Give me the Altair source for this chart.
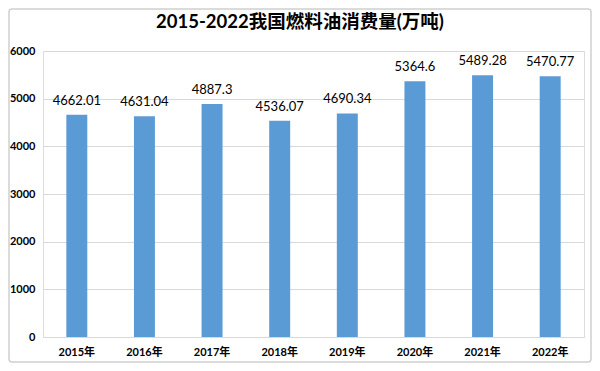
import altair as alt
import pandas as pd

years = ["2015年", "2016年", "2017年", "2018年", "2019年", "2020年", "2021年", "2022年"]
values = [4662.01, 4631.04, 4887.3, 4536.07, 4690.34, 5364.6, 5489.28, 5470.77]
labels = ["4662.01", "4631.04", "4887.3", "4536.07", "4690.34", "5364.6", "5489.28", "5470.77"]
title_text = "2015-2022我国燃料油消费量(万吨)"

df = pd.DataFrame({"year": years, "value": values, "label": labels})

FONT = "Lato, Noto Sans CJK SC, sans-serif"
W, H = 541, 286
PL, PT, PR, PB = 35, 43, 8, 26

x = alt.X("year:N", sort=years, title=None,
          scale=alt.Scale(paddingInner=0.69, paddingOuter=0.345),
          axis=alt.Axis(labelAngle=0, labelFont=FONT, labelFontSize=11, labelFontWeight="bold",
                        labelColor="#000000", ticks=False, domainColor="#d9d9d9", labelPadding=9))
y = alt.Y("value:Q", title=None,
          scale=alt.Scale(domain=[0, 6000], nice=False),
          axis=alt.Axis(values=[0, 1000, 2000, 3000, 4000, 5000, 6000], format="d", labelFont=FONT,
                        labelFontSize=11, labelFontWeight="bold", labelColor="#000000",
                        ticks=False, domain=False, gridColor="#d9d9d9", labelPadding=8))

bars = alt.Chart(df).mark_bar(color="#5b9bd5").encode(x=x, y=y)
text = alt.Chart(df).mark_text(dy=-7, font=FONT, fontSize=13, color="#000000",
                               baseline="bottom").encode(
    x=alt.X("year:N", sort=years), y="value:Q", text="label:N")

border = alt.Chart(pd.DataFrame({"a": [0]})).mark_rect(
    fill=None, stroke="#d0d0d0", strokeWidth=1.5, cornerRadius=3).encode(
    x=alt.value(-PL + 1), x2=alt.value(W + PR - 1),
    y=alt.value(-PT + 1), y2=alt.value(H + PB - 1))

title = alt.Chart(pd.DataFrame({"t": [title_text]})).mark_text(
    font=FONT, fontSize=18.5, fontWeight="bold", color="#000000",
    align="center", baseline="middle").encode(
    x=alt.value(257), y=alt.value(-29), text="t:N")

chart = alt.layer(border, bars, text, title).properties(
    width=W, height=H,
    autosize=alt.AutoSizeParams(type="none"),
    padding={"left": PL, "top": PT, "right": PR, "bottom": PB},
).configure_view(stroke=None).configure(background="white")

chart.save("out.html", embed_options={"renderer": "svg", "actions": False})
